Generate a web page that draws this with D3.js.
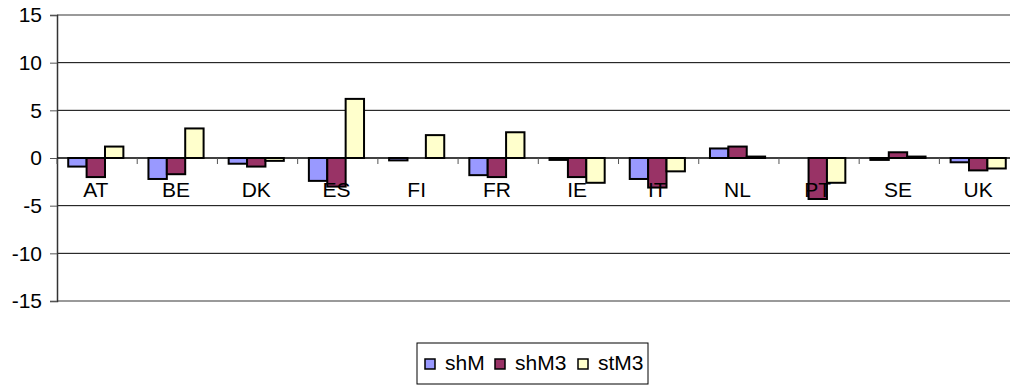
<!DOCTYPE html>
<html>
<head>
<meta charset="utf-8">
<script src="https://cdnjs.cloudflare.com/ajax/libs/d3/7.8.5/d3.min.js"></script>
<style>
  html, body { margin: 0; padding: 0; background: #fff; }
  svg { display: block; font-family: "Liberation Sans", Arial, sans-serif; }
</style>
</head>
<body>
<div id="chart"></div>
<script>
// values
var countries = ["AT", "BE", "DK", "ES", "FI", "FR", "IE", "IT", "NL", "PT", "SE", "UK"];
var seriesNames = ["shM", "shM3", "stM3"];
var shM  = [-0.9, -2.2, -0.6, -2.4, -0.25, -1.8, -0.2, -2.2, 1.0, 0.0, -0.2, -0.45];
var shM3 = [-2.0, -1.7, -0.9, -3.0, 0.0, -2.0, -2.0, -3.1, 1.2, -4.3, 0.6, -1.3];
var stM3 = [1.2, 3.1, -0.3, 6.2, 2.4, 2.7, -2.6, -1.4, 0.15, -2.6, 0.15, -1.1];
var yTicks = [-15, -10, -5, 0, 5, 10, 15];
var colors = ["#9999ff", "#993366", "#ffffcc"];

var chart = {
    width: 1010,
    height: 387,
    fontSize: 21,
    plot: { left: 57, right: 1017, top: 15, bottom: 301 },

    rows: function () {
        var all = [shM, shM3, stM3];
        return countries.map(function (c, i) {
            return { name: c, values: all.map(function (s, j) { return { key: seriesNames[j], value: s[i] }; }) };
        });
    },

    draw: function (selector) {
        var p = this.plot;
        var fs = this.fontSize;
        var svg = d3.select(selector).append("svg")
            .attr("width", this.width)
            .attr("height", this.height);

        var x0 = d3.scaleBand().domain(countries).range([p.left, p.right])
            .paddingInner(0.3125).paddingOuter(0.14);
        var x1 = d3.scaleBand().domain(seriesNames).range([0, x0.bandwidth()]);
        var y = d3.scaleLinear().domain([-15, 15]).range([p.bottom, p.top]);
        var color = d3.scaleOrdinal().domain(seriesNames).range(colors);

        // gridlines
        svg.append("g").selectAll("line")
            .data(yTicks.filter(function (t) { return t !== 15 && t !== -15; }))
            .enter().append("line")
            .attr("x1", p.left).attr("x2", p.right)
            .attr("y1", function (d) { return y(d); }).attr("y2", function (d) { return y(d); })
            .attr("stroke", "#000").attr("stroke-width", 1);

        // plot area border top/bottom
        svg.append("line").attr("x1", p.left).attr("x2", p.right)
            .attr("y1", p.top).attr("y2", p.top)
            .attr("stroke", "#9a9a9a").attr("stroke-width", 2);
        svg.append("line").attr("x1", p.left).attr("x2", p.right)
            .attr("y1", p.bottom).attr("y2", p.bottom)
            .attr("stroke", "#9a9a9a").attr("stroke-width", 2);

        // y axis (plain hyphen for negatives, as in the original)
        var yAxis = d3.axisLeft(y).tickValues(yTicks).tickSize(7).tickPadding(8)
            .tickFormat(function (d) { return String(d); });
        var gy = svg.append("g").attr("transform", "translate(" + p.left + ",0)").call(yAxis);
        gy.select(".domain").attr("stroke", "#333").attr("stroke-width", 1.5);
        gy.selectAll(".tick line").attr("stroke", "#555");
        gy.selectAll("text").attr("font-size", fs).attr("fill", "#000")
            .attr("font-family", "Liberation Sans, Arial, sans-serif");

        // bars
        var groups = svg.append("g").selectAll("g")
            .data(this.rows()).enter().append("g")
            .attr("transform", function (d) { return "translate(" + x0(d.name) + ",0)"; });
        groups.selectAll("rect")
            .data(function (d) { return d.values; })
            .enter().append("rect")
            .attr("x", function (d) { return x1(d.key); })
            .attr("y", function (d) { return y(Math.max(0, d.value)); })
            .attr("width", x1.bandwidth())
            .attr("height", function (d) { return Math.abs(y(d.value) - y(0)); })
            .attr("fill", function (d) { return color(d.key); })
            .attr("stroke", "#000").attr("stroke-width", 2);

        // zero line with category ticks
        svg.append("line").attr("x1", p.left).attr("x2", p.right)
            .attr("y1", y(0)).attr("y2", y(0))
            .attr("stroke", "#000").attr("stroke-width", 1);
        var step = x0.step();
        svg.append("g").selectAll("line")
            .data(d3.range(countries.length + 1))
            .enter().append("line")
            .attr("x1", function (i) { return p.left + i * step; })
            .attr("x2", function (i) { return p.left + i * step; })
            .attr("y1", y(0)).attr("y2", y(0) + 6)
            .attr("stroke", "#555").attr("stroke-width", 1);

        // category labels
        svg.append("g").selectAll("text")
            .data(countries).enter().append("text")
            .attr("x", function (d) { return x0(d) + x0.bandwidth() / 2; })
            .attr("y", 197)
            .attr("text-anchor", "middle")
            .attr("font-size", fs)
            .attr("fill", "#000")
            .text(function (d) { return d; });

        // legend
        var lg = svg.append("g").attr("transform", "translate(417,343)");
        lg.append("rect").attr("width", 231).attr("height", 41)
            .attr("fill", "#fff").attr("stroke", "#000").attr("stroke-width", 1);
        var offs = [8, 78, 161];
        var items = lg.selectAll("g.item").data(seriesNames).enter().append("g")
            .attr("transform", function (d, i) { return "translate(" + offs[i] + ",0)"; });
        items.append("rect").attr("x", 0).attr("y", 16).attr("width", 10).attr("height", 10)
            .attr("fill", function (d) { return color(d); })
            .attr("stroke", "#000").attr("stroke-width", 1.5);
        items.append("text").attr("x", 20).attr("y", 27)
            .attr("font-size", fs).attr("fill", "#000")
            .text(function (d) { return d; });
    }
};

chart.draw("#chart");
</script>
</body>
</html>
